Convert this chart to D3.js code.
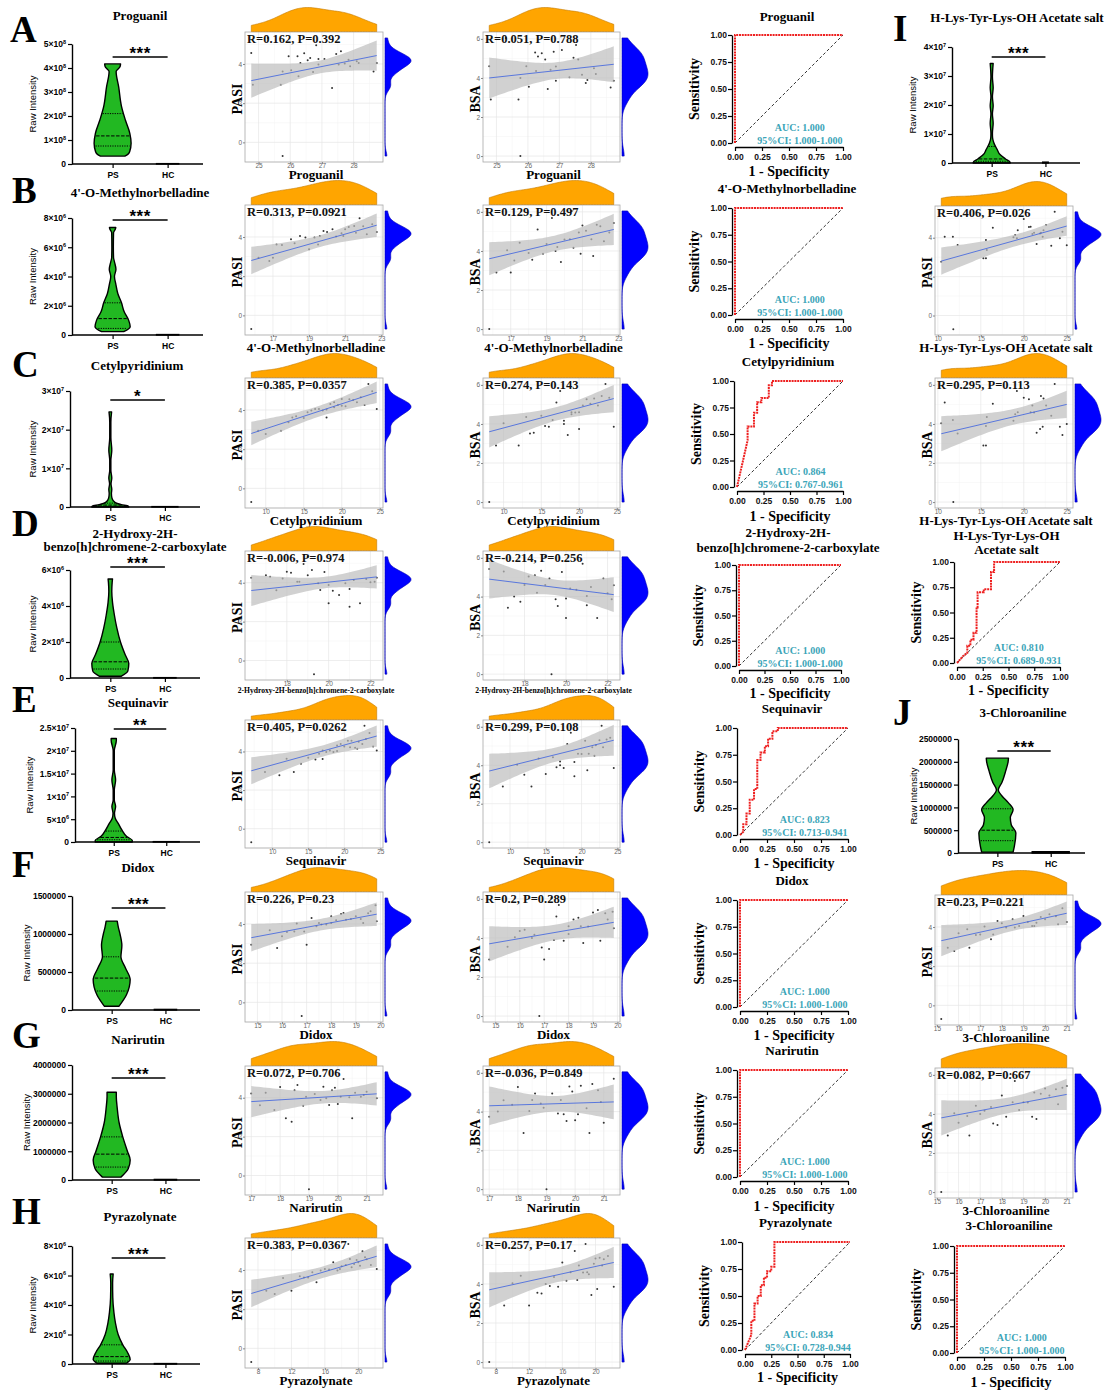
<!DOCTYPE html>
<html>
<head>
<meta charset="utf-8">
<script src="https://cdnjs.cloudflare.com/ajax/libs/d3/7.8.5/d3.min.js"></script>
<style>
  body { margin: 0; background: #fff; }
</style>
</head>
<body>
<div id="fig"></div>
<script>
// ---------- data ----------
var letters = ["A","B","C","D","E","F","G","H","I","J"];
var names = ["Proguanil","4'-O-Methylnorbelladine","Cetylpyridinium",
  "2-Hydroxy-2H-benzo[h]chromene-2-carboxylate","Sequinavir","Didox","Narirutin",
  "Pyrazolynate","H-Lys-Tyr-Lys-OH Acetate salt","3-Chloroaniline"];
var violinTitles = [["Proguanil"],["4'-O-Methylnorbelladine"],["Cetylpyridinium"],
  ["2-Hydroxy-2H-","benzo[h]chromene-2-carboxylate"],["Sequinavir"],["Didox"],["Narirutin"],
  ["Pyrazolynate"],["H-Lys-Tyr-Lys-OH Acetate salt"],["3-Chloroaniline"]];
var rocTitles = [["Proguanil"],["4'-O-Methylnorbelladine"],["Cetylpyridinium"],
  ["2-Hydroxy-2H-","benzo[h]chromene-2-carboxylate"],["Sequinavir"],["Didox"],["Narirutin"],
  ["Pyrazolynate"],["H-Lys-Tyr-Lys-OH","Acetate salt"],["3-Chloroaniline"]];
var groups = ["PS","HC"];

// violin y-axis tick labels ("m×10^e")
var violinTicks = [
  ["0","1×10^8","2×10^8","3×10^8","4×10^8","5×10^8"],
  ["0","2×10^6","4×10^6","6×10^6","8×10^6"],
  ["0","1×10^7","2×10^7","3×10^7"],
  ["0","2×10^6","4×10^6","6×10^6"],
  ["0","5×10^6","1×10^7","1.5×10^7","2×10^7","2.5×10^7"],
  ["0","500000","1000000","1500000"],
  ["0","1000000","2000000","3000000","4000000"],
  ["0","2×10^6","4×10^6","6×10^6","8×10^6"],
  ["0","1×10^7","2×10^7","3×10^7","4×10^7"],
  ["0","500000","1000000","1500000","2000000","2500000"]
];
// PS violin outline: [raw intensity, relative half width]
var psProfile = [
  [[0.33e8,0.66],[0.4e8,0.82],[0.51e8,0.92],[0.86e8,1.0],[1.28e8,0.93],[1.83e8,0.69],[2.4e8,0.48],[3.2e8,0.33],[3.85e8,0.19],[4.05e8,0.4],[4.17e8,0.43]],
  [[0.23e6,0.6],[0.57e6,0.95],[1.0e6,0.87],[1.6e6,0.62],[2.2e6,0.48],[2.84e6,0.28],[3.5e6,0.17],[4.0e6,0.1],[4.5e6,0.18],[5.0e6,0.1],[5.3e6,0.05],[6.0e6,0.04],[7.0e6,0.05],[7.25e6,0.15],[7.35e6,0.17]],
  [[0,1.0],[0.2e6,0.98],[0.6e6,0.6],[1.2e6,0.25],[2.3e6,0.09],[3.5e6,0.06],[4.5e6,0.08],[6e6,0.04],[7.5e6,0.08],[9.5e6,0.03],[12e6,0.03],[14.7e6,0.08],[18e6,0.03],[22e6,0.03],[24.6e6,0.07]],
  [[0.1e6,0.6],[0.4e6,0.95],[0.8e6,1.0],[1.3e6,0.8],[2e6,0.55],[2.8e6,0.35],[3.5e6,0.22],[4.2e6,0.12],[4.8e6,0.08],[5.3e6,0.1],[5.5e6,0.12]],
  [[0.0,1.0],[0.36e6,1.0],[1.2e6,0.7],[2.7e6,0.43],[4.1e6,0.24],[5.2e6,0.08],[6.3e6,0.04],[7.8e6,0.1],[9.2e6,0.03],[11.4e6,0.03],[13.6e6,0.1],[15.8e6,0.03],[20e6,0.03],[22.3e6,0.14],[22.7e6,0.14]],
  [[0.05e6,0.4],[0.2e6,0.8],[0.4e6,1.0],[0.55e6,0.75],[0.7e6,0.5],[0.85e6,0.55],[1.0e6,0.45],[1.1e6,0.35],[1.17e6,0.3]],
  [[0.1e6,0.5],[0.4e6,0.9],[0.7e6,1.0],[1.0e6,0.85],[1.5e6,0.6],[2e6,0.4],[2.5e6,0.3],[2.9e6,0.25],[3.05e6,0.25]],
  [[0.05e6,0.8],[0.3e6,1.0],[0.8e6,0.85],[1.3e6,0.6],[2e6,0.35],[2.8e6,0.2],[3.5e6,0.12],[4.5e6,0.06],[5.5e6,0.05],[6.1e6,0.08]],
  [[0.0,1.0],[0.2e6,1.0],[1.4e6,0.75],[2.9e6,0.45],[4.6e6,0.3],[6.9e6,0.12],[8.6e6,0.05],[10.3e6,0.04],[13.7e6,0.08],[17e6,0.04],[19.7e6,0.08],[22.9e6,0.04],[26e6,0.08],[29.7e6,0.04],[34.3e6,0.08]],
  [[0.02e6,0.85],[0.15e6,0.92],[0.44e6,1.0],[0.62e6,0.75],[0.78e6,0.7],[0.95e6,0.85],[1.1e6,0.6],[1.25e6,0.25],[1.38e6,0.05],[1.55e6,0.25],[1.8e6,0.45],[2.0e6,0.58],[2.08e6,0.6]]
];
// [Q1, median, Q3]
var psQuartiles = [
  [0.75e8,1.17e8,2.1e8],[0.45e6,1.12e6,2.2e6],[0.2e6,0.5e6,1.0e6],[0.5e6,0.9e6,2e6],
  [0.5e6,1.0e6,2.4e6],[0.25e6,0.42e6,0.7e6],[0.45e6,0.9e6,1.5e6],[0.2e6,0.5e6,1.3e6],
  [0.6e6,1.4e6,5.7e6],[0.27e6,0.5e6,0.97e6]
];
var hcTop = [1.5e6,3e4,1e5,2e4,8e4,8000,2e4,3e4,3e5,3e4];
var hcWidth = [0.6,0.6,0.7,0.6,0.7,0.6,0.6,0.6,0.15,1.0];
var stars = ["***","***","*","***","**","***","***","***","***","***"];

// patients: PASI and BSA (same patients in every scatter)
var pasi = [4.56,2.94,2.94,3.61,-0.70,4.39,3.68,4.39,3.37,4.05,4.55,4.19,4.31,3.59,4.96,4.26,3.97,4.26,2.77,4.51,3.97,4.65,4.02,4.22,3.88,4.14,4.05,3.62,4.05,5.33];
var bsa  = [4.60,2.90,2.90,4.00,0.00,4.60,3.55,5.30,4.35,5.10,5.27,4.94,3.43,4.42,5.34,4.59,3.86,5.43,4.03,5.04,5.69,4.94,4.17,3.74,3.90,4.50,4.20,3.51,3.86,6.05];
// metabolite level of each patient
var xData = [
  [24.77,24.82,25.70,25.76,25.76,25.95,26.03,26.23,26.26,26.32,26.44,26.55,26.63,26.72,26.82,26.89,26.89,27.08,27.32,27.45,27.53,27.60,27.72,27.84,27.89,28.10,28.16,28.63,28.73,25.30],
  [21.5,17.0,16.2,19.5,15.8,20.3,18.2,21.0,19.0,18.5,22.0,20.8,19.8,17.5,21.8,20.0,18.8,22.75,16.8,21.2,19.3,22.5,20.5,21.6,18.0,22.2,19.6,17.2,20.9,20.4],
  [20,9,12,18,8.1,19,14,22,13,17,21,20.5,18.5,15,24,19.5,16,23,10,21.5,17.5,22.5,18,20,15.5,19,16.5,13.5,24.6,23.5],
  [18,20,21.5,17.5,19.3,19,21,17,20.5,18.5,19.8,21.8,17.2,20.2,18.8,22.3,19.5,16.3,21,18.2,20.8,19.2,22,17.8,20,21.2,18.6,19.6,22.2,19],
  [21,9,13,17,7.1,19.5,15,22.5,14,18,20.5,21.5,19,16,23.5,20,17.5,24,11,22,18.5,23,19,20.8,16.5,21.8,17,12,24.5,22.8],
  [18.5,14.75,17.0,16.5,16.8,18,15.5,19,16,17.5,19.5,18.2,17.2,16.2,19.8,18.8,17.8,19.2,15.8,18.4,17.6,19.6,16.6,18.6,17.4,19.85,18.0,16.9,19.3,17.3],
  [19.5,18.2,20.5,17.3,19,18.5,20,19.8,17.8,20.8,18,19.2,21,18.8,20.2,17.5,19.6,20.6,18.4,19.9,21.35,18.6,20.4,17.0,19.4,20.9,18.9,19.7,20.1,18.3],
  [19,9,12,14,7.2,17,13,20,15,16,21,18,19.5,11,20.5,18.5,15.5,21.5,10,19.8,17.5,20.8,16.5,20.2,14.5,19.2,17.8,13.5,22.2,18.8],
  [20.8,15.3,15.6,25.0,11.8,19.3,21.5,22.3,15.7,10.8,20.6,21.0,24.5,23.2,20.0,21.2,24.2,22.0,10.4,16.4,19.2,22.6,18.8,21.9,15.6,19.0,11.75,12.3,22.2,23.6],
  [19,15.5,16.5,17,15.2,18.5,16,20,17.5,19.5,20.5,18,17.8,16.8,20.8,19.2,18.2,21.0,15.8,19.8,18.6,20.2,17.2,19.6,16.4,20.6,18.8,17.6,19.4,18.4]
];
var xTicks = [[25,26,27,28],[17,19,21,23],[10,15,20,25],[18,20,22],[10,15,20,25],
  [15,16,17,18,19,20],[17,18,19,20,21],[8,12,16,20],[10,15,20,25],[15,16,17,18,19,20,21]];
var pasiTicks = [0,2,4];
var bsaTicks = [0,2,4,6];
var pasiStat = ["R=0.162, P=0.392","R=0.313, P=0.0921","R=0.385, P=0.0357","R=-0.006, P=0.974","R=0.405, P=0.0262",
  "R=0.226, P=0.23","R=0.072, P=0.706","R=0.383, P=0.0367","R=0.406, P=0.026","R=0.23, P=0.221"];
var bsaStat = ["R=0.051, P=0.788","R=0.129, P=0.497","R=0.274, P=0.143","R=-0.214, P=0.256","R=0.299, P=0.108",
  "R=0.2, P=0.289","R=-0.036, P=0.849","R=0.257, P=0.17","R=0.295, P=0.113","R=0.082, P=0.667"];
// fitted line: [y at min x, y at max x, CI half width at min x, at mean x, at max x]
var pasiFit = [[3.15,4.43,0.87,0.33,0.77],[2.8,4.6,0.7,0.3,0.6],[2.8,4.9,0.6,0.28,0.55],[3.6,4.3,0.8,0.3,0.6],
  [3.0,4.8,0.7,0.3,0.55],[3.3,4.5,0.7,0.3,0.6],[3.8,4.2,0.8,0.33,0.6],[2.8,4.7,0.7,0.3,0.55],
  [2.8,4.6,0.7,0.3,0.5],[3.3,4.7,0.8,0.3,0.6]];
var bsaFit = [[4.0,4.7,1.05,0.43,0.92],[3.6,5.1,0.85,0.4,0.8],[3.6,5.3,0.8,0.35,0.7],[4.9,4.1,1.0,0.4,0.9],
  [3.7,5.3,0.9,0.4,0.8],[3.7,4.8,0.9,0.4,0.8],[4.3,4.5,1.0,0.4,0.9],[3.7,5.1,0.9,0.4,0.8],
  [3.5,5.0,0.9,0.4,0.7],[3.8,5.0,0.9,0.4,0.8]];

// ROC
var perfect = [[0,0],[0,1],[1,1]];
var rocPoints = [
  perfect, perfect,
  [[0,0],[0.1,0.44],[0.1,0.57],[0.16,0.57],[0.16,0.7],[0.19,0.7],[0.19,0.8],[0.23,0.8],[0.23,0.84],[0.3,0.84],[0.3,0.96],[0.33,0.96],[0.33,1],[1,1]],
  perfect,
  [[0,0],[0.03,0.03],[0.03,0.1],[0.06,0.1],[0.06,0.2],[0.09,0.2],[0.09,0.33],[0.13,0.33],[0.13,0.43],[0.16,0.43],[0.16,0.7],[0.19,0.7],[0.19,0.77],[0.23,0.77],[0.23,0.83],[0.26,0.83],[0.26,0.9],[0.3,0.9],[0.3,0.97],[0.35,0.97],[0.35,1],[1,1]],
  perfect, perfect,
  [[0,0],[0.03,0.07],[0.06,0.14],[0.06,0.27],[0.09,0.27],[0.09,0.43],[0.12,0.43],[0.12,0.5],[0.15,0.5],[0.15,0.6],[0.18,0.6],[0.18,0.67],[0.21,0.67],[0.21,0.73],[0.25,0.73],[0.25,0.77],[0.28,0.77],[0.28,1],[1,1]],
  [[0,0],[0.06,0.07],[0.1,0.1],[0.1,0.17],[0.13,0.17],[0.13,0.23],[0.16,0.23],[0.16,0.3],[0.19,0.3],[0.19,0.55],[0.2,0.55],[0.2,0.7],[0.26,0.7],[0.26,0.73],[0.33,0.73],[0.33,0.9],[0.36,0.9],[0.36,1],[1,1]],
  perfect
];
var rocAuc = ["1.000","1.000","0.864","1.000","0.823","1.000","1.000","0.834","0.810","1.000"];
var rocCi = ["1.000-1.000","1.000-1.000","0.767-0.961","1.000-1.000","0.713-0.941","1.000-1.000",
  "1.000-1.000","0.728-0.944","0.689-0.931","1.000-1.000"];
var rocTicks = [0,0.25,0.5,0.75,1];

// ---------- layout (pixels) ----------
var violinBox = [
  {ax:72, ae:203, top:44, bot:164, sig:57, tx:140, ty:[20], lx:10, ly:42, labX:36},
  {ax:72, ae:203, top:218, bot:335, sig:220, tx:140, ty:[197], lx:12, ly:203, labX:36},
  {ax:70, ae:200, top:391, bot:507, sig:400, tx:137, ty:[370], lx:12, ly:377, labX:36},
  {ax:70, ae:200, top:570, bot:678, sig:567, tx:135, ty:[538,551], lx:12, ly:536, labX:36},
  {ax:75, ae:200, top:728, bot:842, sig:729, tx:138, ty:[707], lx:12, ly:712, labX:33},
  {ax:72, ae:200, top:896, bot:1010, sig:908, tx:138, ty:[872], lx:12, ly:877, labX:30},
  {ax:72, ae:200, top:1065, bot:1180, sig:1078, tx:138, ty:[1044], lx:12, ly:1048, labX:30},
  {ax:72, ae:200, top:1246, bot:1364, sig:1258, tx:140, ty:[1221], lx:12, ly:1224, labX:36},
  {ax:952, ae:1080, top:47, bot:163, sig:57, tx:1017, ty:[22], lx:893, ly:41, labX:916},
  {ax:958, ae:1085, top:739, bot:853, sig:751, tx:1023, ty:[717], lx:893, ly:725, labX:917}
];
var pasiBox = [
  {x0:245,x1:383,y0:32,y1:162},{x0:245,x1:383,y0:205,y1:335},{x0:245,x1:383,y0:378,y1:508},
  {x0:245,x1:383,y0:551,y1:680},{x0:245,x1:383,y0:720,y1:848},{x0:245,x1:383,y0:892,y1:1022},
  {x0:245,x1:383,y0:1066,y1:1195},{x0:245,x1:383,y0:1238,y1:1368},
  {x0:935,x1:1073,y0:206,y1:335},{x0:935,x1:1073,y0:895,y1:1025}
];
var bsaBox = [
  {x0:483,x1:620,y0:32,y1:162},{x0:483,x1:620,y0:205,y1:335},{x0:483,x1:620,y0:378,y1:508},
  {x0:483,x1:620,y0:551,y1:680},{x0:483,x1:620,y0:720,y1:848},{x0:483,x1:620,y0:892,y1:1022},
  {x0:483,x1:620,y0:1066,y1:1195},{x0:483,x1:620,y0:1238,y1:1368},
  {x0:935,x1:1073,y0:378,y1:508},{x0:935,x1:1073,y0:1068,y1:1198}
];
var rocBox = [
  {x0:735,x1:843,y0:35,y1:143,ty:[21],xl:176},
  {x0:735,x1:843,y0:208,y1:315,ty:[193],xl:348},
  {x0:737,x1:843,y0:381,y1:487,ty:[366],xl:521},
  {x0:739,x1:841,y0:565,y1:666,ty:[537,552],xl:698},
  {x0:740,x1:848,y0:728,y1:835,ty:[713],xl:868},
  {x0:740,x1:848,y0:900,y1:1007,ty:[885],xl:1040},
  {x0:740,x1:848,y0:1070,y1:1177,ty:[1055],xl:1211},
  {x0:745,x1:850,y0:1242,y1:1350,ty:[1227],xl:1382},
  {x0:957,x1:1060,y0:562,y1:663,ty:[540,554],xl:695},
  {x0:957,x1:1065,y0:1246,y1:1353,ty:[1230],xl:1387}
];

var SERIF = "'Liberation Serif','Times New Roman',serif";
var SANS = "'Liberation Sans',Arial,sans-serif";

var svg = d3.select("#fig").append("svg")
  .attr("width", 1105).attr("height", 1391)
  .style("background", "#fff");

function tickValue(lab) {
  if (lab.indexOf("×") < 0) return +lab;
  var m = parseFloat(lab.split("×")[0]);
  var e = +lab.split("^")[1];
  return m * Math.pow(10, e);
}

function widthAt(prof, v) {
  // linear interpolation of the outline
  for (var i = 1; i < prof.length; i++) {
    if (v <= prof[i][0]) {
      var t = (v - prof[i-1][0]) / (prof[i][0] - prof[i-1][0]);
      return prof[i-1][1] + t * (prof[i][1] - prof[i-1][1]);
    }
  }
  return prof[prof.length-1][1];
}

function kde(vals) {
  var s = vals.slice().sort(d3.ascending);
  var sd = d3.deviation(s);
  var iqr = d3.quantile(s, 0.75) - d3.quantile(s, 0.25);
  var bw = 0.9 * Math.min(sd, iqr / 1.34) * Math.pow(s.length, -0.2);
  var ext = d3.extent(s);
  return d3.range(0, 81).map(function(i) {
    var t = ext[0] + (ext[1] - ext[0]) * i / 80;
    return [t, d3.mean(s, function(v) { return Math.exp(-0.5 * Math.pow((t - v) / bw, 2)); })];
  });
}

// ---------- violin ----------
function drawViolin(k) {
  var L = violinBox[k];
  var g = svg.append("g");
  var labs = violinTicks[k];
  var vals = labs.map(tickValue);
  var y = d3.scaleLinear().domain([0, d3.max(vals)]).range([L.bot, L.top]);
  var x = d3.scalePoint().domain(groups)
    .range([L.ax + 0.31 * (L.ae - L.ax), L.ax + 0.73 * (L.ae - L.ax)]);
  var half = 18.5;

  function shape(cx) {
    return d3.area().curve(d3.curveMonotoneY)
      .y(function(d) { return y(d[0]); })
      .x0(function(d) { return cx - d[1] * half; })
      .x1(function(d) { return cx + d[1] * half; });
  }
  var prof = psProfile[k];
  g.append("path").datum(prof).attr("d", shape(x("PS")))
    .attr("fill", "#22b822").attr("stroke", "#000").attr("stroke-width", 1.4)
    .attr("stroke-linejoin", "round");
  psQuartiles[k].forEach(function(q, i) {
    var w = widthAt(prof, q) * half - 1;
    g.append("line")
      .attr("x1", x("PS") - w).attr("x2", x("PS") + w)
      .attr("y1", y(q)).attr("y2", y(q))
      .attr("stroke", "#000").attr("stroke-width", 1)
      .attr("stroke-dasharray", i == 1 ? "3.5,1.5" : "1.2,1.2");
  });
  var hcProf = [[0, hcWidth[k]], [hcTop[k], hcWidth[k]]];
  g.append("path").datum(hcProf).attr("d", shape(x("HC")))
    .attr("fill", "#22b822").attr("stroke", "#000").attr("stroke-width", 1.4);

  // y axis
  var ya = g.append("g").attr("transform", "translate(" + L.ax + ",0)")
    .call(d3.axisLeft(y).tickValues(vals).tickSize(4).tickSizeOuter(0).tickFormat(""));
  ya.select(".domain").attr("stroke", "#000").attr("stroke-width", 1.4);
  ya.selectAll(".tick line").attr("stroke", "#000").attr("stroke-width", 1.2);
  ya.selectAll(".tick").each(function(d, i) {
    var parts = labs[i].split("^");
    var t = d3.select(this).append("text")
      .attr("x", -6).attr("dy", "0.35em").attr("text-anchor", "end")
      .attr("font-family", SANS).attr("font-weight", "bold").attr("font-size", 8.5).attr("fill", "#000");
    t.append("tspan").text(parts[0]);
    if (parts[1]) t.append("tspan").attr("dy", -3.5).attr("font-size", 5.5).text(parts[1]);
  });
  // x axis
  g.append("line").attr("x1", L.ax).attr("x2", L.ae).attr("y1", L.bot).attr("y2", L.bot)
    .attr("stroke", "#000").attr("stroke-width", 1.4);
  var xa = g.append("g").attr("transform", "translate(0," + L.bot + ")")
    .call(d3.axisBottom(x).tickSize(4).tickSizeOuter(0));
  xa.select(".domain").remove();
  xa.selectAll(".tick line").attr("stroke", "#000").attr("stroke-width", 1.2);
  xa.selectAll(".tick text").attr("y", 8).attr("font-family", SANS).attr("font-weight", "bold")
    .attr("font-size", 8.5).attr("fill", "#000");

  g.append("text").attr("transform", "translate(" + L.labX + "," + ((L.top + L.bot) / 2) + ") rotate(-90)")
    .attr("text-anchor", "middle").attr("font-family", SANS).attr("font-size", 9.5).text("Raw Intensity");

  // significance
  g.append("line").attr("x1", x("PS")).attr("x2", x("HC")).attr("y1", L.sig).attr("y2", L.sig)
    .attr("stroke", "#000").attr("stroke-width", 1.5);
  g.append("text").attr("x", (x("PS") + x("HC")) / 2).attr("y", L.sig + 2)
    .attr("text-anchor", "middle").attr("font-family", SANS).attr("font-weight", "bold")
    .attr("font-size", 17).attr("letter-spacing", 0.5).text(stars[k]);

  // title and letter
  violinTitles[k].forEach(function(s, i) {
    g.append("text").attr("x", L.tx).attr("y", L.ty[i]).attr("text-anchor", "middle")
      .attr("font-family", SERIF).attr("font-weight", "bold").attr("font-size", 13).text(s);
  });
  g.append("text").attr("x", L.lx).attr("y", L.ly).attr("font-family", SERIF)
    .attr("font-weight", "bold").attr("font-size", 37).text(letters[k]);
}

// ---------- scatter with marginal densities ----------
function drawScatter(k, yVals, fit, stat, L, yTicks, yLab) {
  var g = svg.append("g");
  var xs = xData[k];
  var xe = d3.extent(xs), xr = xe[1] - xe[0];
  var ye = d3.extent(yVals), yr = ye[1] - ye[0];
  var x = d3.scaleLinear().domain([xe[0] - 0.05 * xr, xe[1] + 0.05 * xr]).range([L.x0, L.x1]);
  var y = d3.scaleLinear().domain([ye[0] - 0.05 * yr, ye[1] + 0.05 * yr]).range([L.y1, L.y0]);

  // grid
  var xt = xTicks[k], xs2 = xt[1] - xt[0];
  var xd = x.domain(), yd = y.domain();
  var xMinor = [];
  for (var v = xt[0] - xs2 / 2; v <= xd[1]; v += xs2) if (v >= xd[0]) xMinor.push(v);
  var yMinor = [];
  for (var w = yTicks[0] - 1; w <= yd[1]; w += 2) if (w >= yd[0]) yMinor.push(w);
  g.selectAll(".vmin").data(xMinor).enter().append("line")
    .attr("x1", x).attr("x2", x).attr("y1", L.y0).attr("y2", L.y1)
    .attr("stroke", "#f2f2f2").attr("stroke-width", 0.5);
  g.selectAll(".hmin").data(yMinor).enter().append("line")
    .attr("y1", y).attr("y2", y).attr("x1", L.x0).attr("x2", L.x1)
    .attr("stroke", "#f2f2f2").attr("stroke-width", 0.5);
  g.selectAll(".vmaj").data(xt).enter().append("line")
    .attr("x1", x).attr("x2", x).attr("y1", L.y0).attr("y2", L.y1)
    .attr("stroke", "#e6e6e6").attr("stroke-width", 0.7);
  g.selectAll(".hmaj").data(yTicks).enter().append("line")
    .attr("y1", y).attr("y2", y).attr("x1", L.x0).attr("x2", L.x1)
    .attr("stroke", "#e6e6e6").attr("stroke-width", 0.7);

  // points
  g.selectAll(".pt").data(xs).enter().append("circle")
    .attr("cx", function(d) { return x(d); })
    .attr("cy", function(d, i) { return y(yVals[i]); })
    .attr("r", 1).attr("fill", "#333");

  // fitted line with confidence band
  var xbar = d3.mean(xs);
  function lineY(t) { return fit[0] + (fit[1] - fit[0]) * (t - xe[0]) / xr; }
  function halfW(t) {
    var a = xe[0], b = xbar, c = xe[1];
    var fa = fit[2] * fit[2], fb = fit[3] * fit[3], fc = fit[4] * fit[4];
    var h2 = fa * (t - b) * (t - c) / ((a - b) * (a - c)) +
             fb * (t - a) * (t - c) / ((b - a) * (b - c)) +
             fc * (t - a) * (t - b) / ((c - a) * (c - b));
    return Math.sqrt(Math.max(h2, 0));
  }
  var grid = d3.range(0, 41).map(function(i) { return xe[0] + xr * i / 40; });
  g.append("path").datum(grid)
    .attr("d", d3.area().x(function(t) { return x(t); })
      .y0(function(t) { return y(lineY(t) - halfW(t)); })
      .y1(function(t) { return y(lineY(t) + halfW(t)); }))
    .attr("fill", "#bdbdbd").attr("opacity", 0.7);
  g.append("line").attr("x1", x(xe[0])).attr("x2", x(xe[1]))
    .attr("y1", y(fit[0])).attr("y2", y(fit[1]))
    .attr("stroke", "#3a5fe0").attr("stroke-width", 0.8);

  // border
  g.append("rect").attr("x", L.x0).attr("y", L.y0).attr("width", L.x1 - L.x0).attr("height", L.y1 - L.y0)
    .attr("fill", "none").attr("stroke", "#a8a8a8").attr("stroke-width", 0.8);

  // axes
  var ya = g.append("g").attr("transform", "translate(" + L.x0 + ",0)")
    .call(d3.axisLeft(y).tickValues(yTicks).tickSize(2).tickFormat(d3.format("d")));
  var xa = g.append("g").attr("transform", "translate(0," + L.y1 + ")")
    .call(d3.axisBottom(x).tickValues(xt).tickSize(2).tickFormat(d3.format("d")));
  [ya, xa].forEach(function(a) {
    a.select(".domain").remove();
    a.selectAll(".tick line").attr("stroke", "#888");
    a.selectAll(".tick text").attr("font-family", SANS).attr("font-size", 6.5).attr("fill", "#666");
  });
  ya.selectAll(".tick text").attr("x", -3);
  xa.selectAll(".tick text").attr("y", 1);

  // marginal densities
  var dx = kde(xs), mx = d3.max(dx, function(d) { return d[1]; });
  g.append("path").datum(dx)
    .attr("d", d3.area().x(function(d) { return x(d[0]); })
      .y0(L.y0 - 0.5).y1(function(d) { return L.y0 - 0.5 - 24 * d[1] / mx; }))
    .attr("fill", "#ffa500").attr("stroke", "#c47a00").attr("stroke-width", 0.6);
  var dy = kde(yVals), my = d3.max(dy, function(d) { return d[1]; });
  g.append("path").datum(dy)
    .attr("d", d3.area().y(function(d) { return y(d[0]); })
      .x0(L.x1 + 2).x1(function(d) { return L.x1 + 2 + 26 * d[1] / my; }))
    .attr("fill", "#0000ff").attr("stroke", "#0000b0").attr("stroke-width", 0.6);

  // texts
  g.append("text").attr("x", L.x0 + 2).attr("y", L.y0 + 11)
    .attr("font-family", SERIF).attr("font-weight", "bold").attr("font-size", 12.5)
    .attr("fill", "#111").text(stat);
  g.append("text").attr("transform", "translate(" + (L.x0 - 3) + "," + ((L.y0 + L.y1) / 2 + 2) + ") rotate(-90)")
    .attr("text-anchor", "middle").attr("font-family", SERIF).attr("font-weight", "bold")
    .attr("font-size", 14).text(yLab);
  var nm = names[k];
  var small = nm.length > 35;
  g.append("text").attr("x", (L.x0 + L.x1) / 2 + 2).attr("y", L.y1 + (small ? 12.5 : 17))
    .attr("text-anchor", "middle").attr("font-family", SERIF).attr("font-weight", "bold")
    .attr("font-size", small ? 7.6 : 13).text(nm);
}

// ---------- ROC ----------
function drawRoc(k) {
  var L = rocBox[k];
  var g = svg.append("g");
  var x = d3.scaleLinear().domain([0, 1]).range([L.x0, L.x1]);
  var y = d3.scaleLinear().domain([0, 1]).range([L.y1, L.y0]);

  var ya = g.append("g").attr("transform", "translate(" + (L.x0 - 3) + ",0)")
    .call(d3.axisLeft(y).tickValues(rocTicks).tickSize(4).tickSizeOuter(0).tickFormat(d3.format(".2f")));
  var xa = g.append("g").attr("transform", "translate(0," + (L.y1 + 4) + ")")
    .call(d3.axisBottom(x).tickValues(rocTicks).tickSize(4).tickSizeOuter(0).tickFormat(d3.format(".2f")));
  [ya, xa].forEach(function(a) {
    a.select(".domain").attr("stroke", "#000").attr("stroke-width", 1.3);
    a.selectAll(".tick line").attr("stroke", "#000").attr("stroke-width", 1.2);
    a.selectAll(".tick text").attr("font-family", SANS).attr("font-weight", "bold")
      .attr("font-size", 8.5).attr("fill", "#111");
  });
  ya.selectAll(".tick text").attr("x", -5);
  xa.selectAll(".tick text").attr("y", 7);

  g.append("line").attr("x1", x(0)).attr("y1", y(0)).attr("x2", x(1)).attr("y2", y(1))
    .attr("stroke", "#333").attr("stroke-width", 1).attr("stroke-dasharray", "3,2.2");
  g.append("path").datum(rocPoints[k])
    .attr("d", d3.line().x(function(d) { return x(d[0]); }).y(function(d) { return y(d[1]); }))
    .attr("fill", "none").attr("stroke", "#ee2020").attr("stroke-width", 2)
    .attr("stroke-dasharray", "2,0.8");

  var cx = L.x0 + 0.6 * (L.x1 - L.x0);
  g.append("text").attr("x", cx).attr("y", L.y1 - 12).attr("text-anchor", "middle")
    .attr("font-family", SERIF).attr("font-weight", "bold").attr("font-size", 10)
    .attr("fill", "#3ba5b8").text("AUC: " + rocAuc[k]);
  g.append("text").attr("x", cx).attr("y", L.y1 + 1).attr("text-anchor", "middle")
    .attr("font-family", SERIF).attr("font-weight", "bold").attr("font-size", 10)
    .attr("fill", "#3ba5b8").text("95%CI: " + rocCi[k]);

  rocTitles[k].forEach(function(s, i) {
    g.append("text").attr("x", (L.x0 + L.x1) / 2 - 2).attr("y", L.ty[i]).attr("text-anchor", "middle")
      .attr("font-family", SERIF).attr("font-weight", "bold").attr("font-size", 13).text(s);
  });
  g.append("text").attr("transform", "translate(" + (L.x0 - 36) + "," + ((L.y0 + L.y1) / 2) + ") rotate(-90)")
    .attr("text-anchor", "middle").attr("font-family", SERIF).attr("font-weight", "bold")
    .attr("font-size", 14).text("Sensitivity");
  g.append("text").attr("x", (L.x0 + L.x1) / 2).attr("y", L.xl).attr("text-anchor", "middle")
    .attr("font-family", SERIF).attr("font-weight", "bold").attr("font-size", 14).text("1 - Specificity");
}

for (var k = 0; k < 10; k++) {
  drawViolin(k);
  drawScatter(k, pasi, pasiFit[k], pasiStat[k], pasiBox[k], pasiTicks, "PASI");
  drawScatter(k, bsa, bsaFit[k], bsaStat[k], bsaBox[k], bsaTicks, "BSA");
  drawRoc(k);
}
</script>
</body>
</html>
